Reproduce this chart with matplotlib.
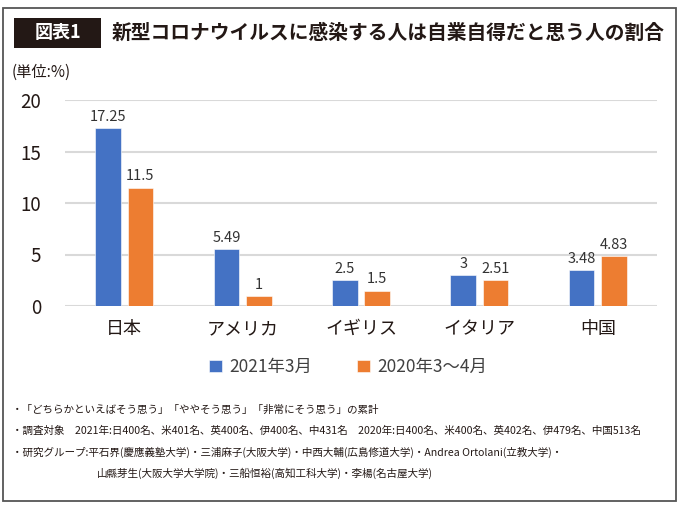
import matplotlib
matplotlib.use('Agg')
import matplotlib.pyplot as plt
from matplotlib.patches import Rectangle
import numpy as np

plt.rcParams['font.family'] = ['Noto Sans CJK JP', 'DejaVu Sans']

# データ
countries = ['日本', 'アメリカ', 'イギリス', 'イタリア', '中国']
values_2021 = [17.25, 5.49, 2.5, 3, 3.48]
values_2020 = [11.5, 1, 1.5, 2.51, 4.83]
labels_2021 = ['17.25', '5.49', '2.5', '3', '3.48']
labels_2020 = ['11.5', '1', '1.5', '2.51', '4.83']
series_names = ['2021年3月', '2020年3～4月']
yticks = [0, 5, 10, 15, 20]

title = '新型コロナウイルスに感染する人は自業自得だと思う人の割合'
notes = [
    '・「どちらかといえばそう思う」「ややそう思う」「非常にそう思う」の累計',
    '・調査対象　2021年:日400名、米401名、英400名、伊400名、中431名　2020年:日400名、米400名、英402名、伊479名、中国513名',
    '・研究グループ:平石界(慶應義塾大学)・三浦麻子(大阪大学)・中西大輔(広島修道大学)・Andrea Ortolani(立教大学)・',
    '山縣芽生(大阪大学大学院)・三船恒裕(高知工科大学)・李楊(名古屋大学)',
]
note_x = [12, 12, 12, 97]
note_y = [410, 431, 452, 473]

blue = '#4472C4'
orange = '#ED7D31'
W, H = 680, 509

fig = plt.figure(figsize=(6.8, 5.09), dpi=100)

# 外枠
fig.patches.append(Rectangle((3 / W, 1 - 501 / H), 673 / W, 493 / H,
                             transform=fig.transFigure, fill=False,
                             edgecolor='#555555', linewidth=1.3))

# 図表番号の黒いボックス
fig.patches.append(Rectangle((14 / W, 1 - 48 / H), 87 / W, 30 / H,
                             transform=fig.transFigure, facecolor='#231815',
                             edgecolor='none'))
fig.text(57.5 / W, 1 - 33 / H, '図表1', color='white', fontsize=13,
         fontweight='bold', ha='center', va='center')
fig.text(112 / W, 1 - 33 / H, title, fontsize=14.2, fontweight='bold',
         ha='left', va='center', color='#231815')
fig.text(12 / W, 1 - 72 / H, '(単位:%)', fontsize=11, ha='left',
         va='center', color='#231815')

ax = fig.add_axes([65 / W, 1 - 306 / H, 592 / W, 206 / H])
x = np.arange(len(countries))
w = 0.215
off = 0.137
b1 = ax.bar(x - off, values_2021, w, color=blue, edgecolor='white',
            linewidth=0.4, label=series_names[0], zorder=3)
b2 = ax.bar(x + off, values_2020, w, color=orange, edgecolor='white',
            linewidth=0.4, label=series_names[1], zorder=3)
ax.bar_label(b1, labels=labels_2021, padding=3, fontsize=10.5, color='#333333')
ax.bar_label(b2, labels=labels_2020, padding=3, fontsize=10.5, color='#333333')

ax.set_xlim(-0.5, len(countries) - 0.5)
ax.set_ylim(0, 20)
ax.set_yticks(yticks)
ax.set_xticks(x)
ax.set_xticklabels(countries, fontsize=13, color='#231815')
ax.tick_params(axis='y', labelsize=13.5, labelcolor='#231815', length=0, pad=17)
ax.tick_params(axis='x', length=0, pad=10)
ax.grid(axis='y', color='#D9D9D9', linewidth=1.5, zorder=0)
for s in ax.spines.values():
    s.set_visible(False)

fig.legend(handles=[b1, b2], labels=series_names, loc='center',
           bbox_to_anchor=(348 / W, 1 - 367 / H), ncol=2, frameon=False,
           fontsize=12.5, handlelength=0.75, handleheight=0.75,
           handletextpad=0.4, columnspacing=2.6, labelcolor='#404040')

# 注記
for t, xx, yy in zip(notes, note_x, note_y):
    fig.text(xx / W, 1 - yy / H, t, fontsize=7.6, ha='left', va='center',
             color='#231815')

fig.savefig('out.png', dpi=100)
